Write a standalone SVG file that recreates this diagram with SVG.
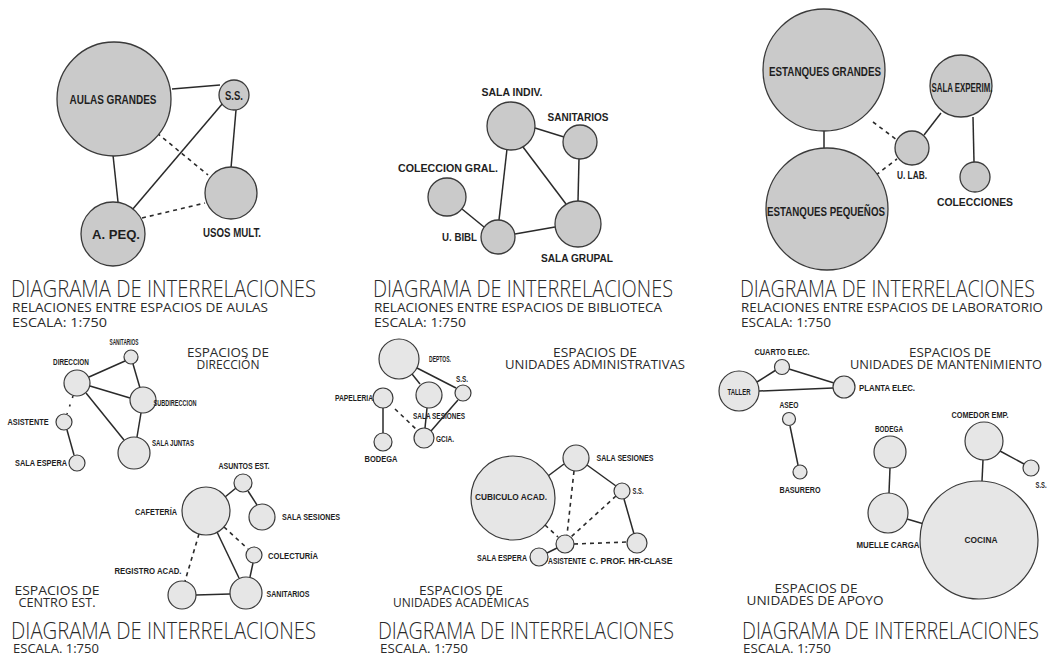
<svg xmlns="http://www.w3.org/2000/svg" width="1051" height="657" viewBox="0 0 1051 657">
<style>
.n1{fill:#cacaca;stroke:#3a3a3a;stroke-width:1.3}
.n2{fill:#e6e6e6;stroke:#3a3a3a;stroke-width:1.2}
.e{stroke:#2a2a2a;stroke-width:1.5;fill:none}
.d{stroke:#2a2a2a;stroke-width:1.6;fill:none;stroke-dasharray:4 4}
.lb{font-family:'Liberation Sans Narrow','Liberation Sans',Arial,sans-serif;font-weight:bold;fill:#1e1e1e;text-anchor:middle}
.lg{font-size:13px}
.md{font-size:11.5px}
.sm{font-size:9.5px}
.tt{font-family:'Open Sans','Liberation Sans',Arial,sans-serif;font-weight:300;fill:#2a2a2a;font-size:24px}
.st{font-family:'Open Sans','Liberation Sans',Arial,sans-serif;font-weight:400;fill:#2a2a2a;font-size:13.5px}
.hd{font-family:'Open Sans','Liberation Sans',Arial,sans-serif;font-weight:400;fill:#2a2a2a;font-size:13px;text-anchor:middle}
.end{text-anchor:end}
.st0{text-anchor:start}
</style>
<rect width="1051" height="657" fill="#ffffff"/>

<g id="connectors">
  <!-- panel 1 -->
  <line class="e" x1="172" y1="89" x2="220" y2="85"/>
  <line class="e" x1="223" y1="103" x2="132" y2="210"/>
  <line class="e" x1="236" y1="110" x2="231" y2="168"/>
  <line class="e" x1="113" y1="155" x2="118" y2="202"/>
  <line class="d" x1="157" y1="133" x2="208" y2="175"/>
  <line class="d" x1="142" y1="218" x2="205" y2="203"/>
  <!-- panel 2 -->
  <line class="e" x1="535" y1="128" x2="564" y2="137"/>
  <line class="e" x1="507" y1="149" x2="499" y2="220"/>
  <line class="e" x1="523" y1="147" x2="566" y2="204"/>
  <line class="e" x1="579" y1="159" x2="578" y2="201"/>
  <line class="e" x1="462" y1="209" x2="484" y2="227"/>
  <line class="e" x1="515" y1="234" x2="555" y2="227"/>
  <!-- panel 3 -->
  <line class="e" x1="824" y1="131" x2="824" y2="148"/>
  <line class="e" x1="941" y1="113" x2="924" y2="135"/>
  <line class="e" x1="973" y1="117" x2="974" y2="162"/>
  <line class="d" x1="873" y1="122" x2="897" y2="140"/>
  <line class="d" x1="876" y1="175" x2="897" y2="159"/>
  <!-- direccion -->
  <line class="e" x1="89" y1="377" x2="125" y2="361"/>
  <line class="e" x1="90" y1="386" x2="130" y2="398"/>
  <line class="e" x1="86" y1="393" x2="124" y2="440"/>
  <line class="e" x1="133" y1="364" x2="140" y2="388"/>
  <line class="e" x1="141" y1="413" x2="137" y2="437"/>
  <line class="d" x1="73" y1="396" x2="67" y2="414" style="stroke-dasharray:2 7"/>
  <line class="e" x1="67" y1="430" x2="74" y2="455"/>
  <!-- administrativas -->
  <line class="e" x1="417" y1="368" x2="456" y2="388"/>
  <line class="e" x1="412" y1="374" x2="420" y2="384"/>
  <line class="e" x1="458" y1="400" x2="431" y2="431"/>
  <line class="e" x1="427" y1="408" x2="425" y2="428"/>
  <line class="e" x1="383" y1="408" x2="383" y2="433"/>
  <line class="d" x1="395" y1="409" x2="416" y2="429"/>
  <!-- mantenimiento -->
  <line class="e" x1="757" y1="382" x2="776" y2="370"/>
  <line class="e" x1="789" y1="369" x2="834" y2="383"/>
  <line class="e" x1="759" y1="391" x2="833" y2="388"/>
  <line class="e" x1="790" y1="426" x2="798" y2="465"/>
  <!-- apoyo -->
  <line class="e" x1="890" y1="468" x2="889" y2="493"/>
  <line class="e" x1="983" y1="460" x2="982" y2="481"/>
  <line class="e" x1="1000" y1="451" x2="1024" y2="464"/>
  <line class="e" x1="907" y1="519" x2="924" y2="524"/>
  <!-- centro est -->
  <line class="e" x1="225" y1="497" x2="236" y2="488"/>
  <line class="e" x1="248" y1="491" x2="257" y2="505"/>
  <line class="e" x1="217" y1="532" x2="239" y2="578"/>
  <line class="d" x1="224" y1="527" x2="248" y2="549"/>
  <line class="d" x1="199" y1="534" x2="185" y2="581"/>
  <line class="e" x1="253" y1="563" x2="250" y2="577"/>
  <line class="e" x1="196" y1="595" x2="230" y2="594"/>
  <!-- academicas -->
  <line class="e" x1="548" y1="476" x2="564" y2="464"/>
  <line class="e" x1="587" y1="465" x2="616" y2="486"/>
  <line class="e" x1="624" y1="499" x2="634" y2="534"/>
  <line class="d" x1="574" y1="471" x2="567" y2="535"/>
  <line class="d" x1="616" y1="496" x2="571" y2="537"/>
  <line class="d" x1="545" y1="525" x2="558" y2="537"/>
  <line class="d" x1="574" y1="544" x2="627" y2="542"/>
  <line class="e" x1="547" y1="553" x2="557" y2="548"/>
</g>

<!-- Panel 1: aulas -->
<g id="aulas-grandes"><circle class="n1" cx="114" cy="99" r="57"/><text class="lb lg" x="113" y="104" textLength="87" lengthAdjust="spacingAndGlyphs">AULAS GRANDES</text></g>
<g id="aulas-ss"><circle class="n1" cx="234" cy="95" r="15"/><text class="lb lg" x="234" y="99.5" textLength="18" lengthAdjust="spacingAndGlyphs">S.S.</text></g>
<g id="usos-mult"><circle class="n1" cx="231" cy="193" r="26"/><text class="lb lg" x="232" y="237" textLength="58" lengthAdjust="spacingAndGlyphs">USOS MULT.</text></g>
<g id="a-peq"><circle class="n1" cx="113" cy="234" r="32"/><text class="lb lg" x="116" y="239" textLength="48" lengthAdjust="spacingAndGlyphs">A. PEQ.</text></g>
<g id="title-aulas">
  <text class="tt" x="11" y="297" textLength="305" lengthAdjust="spacingAndGlyphs">DIAGRAMA DE INTERRELACIONES</text>
  <text class="st" x="12" y="312" textLength="256" lengthAdjust="spacingAndGlyphs">RELACIONES ENTRE ESPACIOS DE AULAS</text>
  <text class="st" x="12" y="327" textLength="95" lengthAdjust="spacingAndGlyphs">ESCALA: 1:750</text>
</g>

<!-- Panel 2: biblioteca -->
<g id="sala-indiv"><circle class="n1" cx="511" cy="126" r="24"/><text class="lb md" x="512" y="96" textLength="61" lengthAdjust="spacingAndGlyphs">SALA INDIV.</text></g>
<g id="bib-sanitarios"><circle class="n1" cx="580" cy="142" r="17"/><text class="lb md" x="578" y="121" textLength="61" lengthAdjust="spacingAndGlyphs">SANITARIOS</text></g>
<g id="coleccion-gral"><circle class="n1" cx="447" cy="197" r="19"/><text class="lb md" x="448" y="172" textLength="100" lengthAdjust="spacingAndGlyphs">COLECCION GRAL.</text></g>
<g id="u-bibl"><circle class="n1" cx="498" cy="237" r="17"/><text class="lb md end" x="477" y="241" textLength="35" lengthAdjust="spacingAndGlyphs">U. BIBL</text></g>
<g id="sala-grupal"><circle class="n1" cx="578" cy="224" r="23"/><text class="lb md" x="577" y="262" textLength="72" lengthAdjust="spacingAndGlyphs">SALA GRUPAL</text></g>
<g id="title-biblioteca">
  <text class="tt" x="373" y="297" textLength="300" lengthAdjust="spacingAndGlyphs">DIAGRAMA DE INTERRELACIONES</text>
  <text class="st" x="374" y="312" textLength="288" lengthAdjust="spacingAndGlyphs">RELACIONES ENTRE ESPACIOS DE BIBLIOTECA</text>
  <text class="st" x="374" y="327" textLength="92" lengthAdjust="spacingAndGlyphs">ESCALA: 1:750</text>
</g>

<!-- Panel 3: laboratorio -->
<g id="estanques-grandes"><circle class="n1" cx="824" cy="70" r="61"/><text class="lb lg" x="825" y="76" textLength="112" lengthAdjust="spacingAndGlyphs">ESTANQUES GRANDES</text></g>
<g id="estanques-pequenos"><circle class="n1" cx="827" cy="209" r="61"/><text class="lb lg" x="826" y="216" textLength="118" lengthAdjust="spacingAndGlyphs">ESTANQUES PEQUEÑOS</text></g>
<g id="sala-experim"><circle class="n1" cx="961" cy="86" r="31"/><text class="lb lg" x="962" y="92" textLength="61" lengthAdjust="spacingAndGlyphs">SALA EXPERIM.</text></g>
<g id="u-lab"><circle class="n1" cx="912" cy="148" r="17"/><text class="lb md" x="912" y="179" textLength="30" lengthAdjust="spacingAndGlyphs">U. LAB.</text></g>
<g id="colecciones"><circle class="n1" cx="975" cy="177" r="15"/><text class="lb md" x="975" y="206" textLength="76" lengthAdjust="spacingAndGlyphs">COLECCIONES</text></g>
<g id="title-laboratorio">
  <text class="tt" x="740" y="297" textLength="295" lengthAdjust="spacingAndGlyphs">DIAGRAMA DE INTERRELACIONES</text>
  <text class="st" x="741" y="312" textLength="302" lengthAdjust="spacingAndGlyphs">RELACIONES ENTRE ESPACIOS DE LABORATORIO</text>
  <text class="st" x="741" y="327" textLength="90" lengthAdjust="spacingAndGlyphs">ESCALA: 1:750</text>
</g>

<!-- Direccion -->
<g id="direccion"><circle class="n2" cx="77" cy="383" r="13"/><text class="lb sm" x="71" y="365" textLength="36" lengthAdjust="spacingAndGlyphs">DIRECCION</text></g>
<g id="dir-sanitarios"><circle class="n2" cx="131" cy="357" r="7"/><text class="lb sm" x="124" y="345" textLength="29" lengthAdjust="spacingAndGlyphs">SANITARIOS</text></g>
<g id="subdireccion"><circle class="n2" cx="143" cy="400" r="13"/><text class="lb sm" x="175" y="406" textLength="43" lengthAdjust="spacingAndGlyphs">SUBDIRECCION</text></g>
<g id="dir-asistente"><circle class="n2" cx="64" cy="422" r="8"/><text class="lb sm" x="28" y="425" textLength="41" lengthAdjust="spacingAndGlyphs">ASISTENTE</text></g>
<g id="dir-sala-espera"><circle class="n2" cx="77" cy="463" r="8"/><text class="lb sm" x="41" y="466" textLength="52" lengthAdjust="spacingAndGlyphs">SALA ESPERA</text></g>
<g id="sala-juntas"><circle class="n2" cx="134" cy="453" r="16"/><text class="lb sm" x="173" y="446" textLength="42" lengthAdjust="spacingAndGlyphs">SALA JUNTAS</text></g>
<g id="head-direccion">
  <text class="hd" x="228" y="357" textLength="82" lengthAdjust="spacingAndGlyphs">ESPACIOS DE</text>
  <text class="hd" x="228" y="369" textLength="63" lengthAdjust="spacingAndGlyphs">DIRECCIÓN</text>
</g>

<!-- Administrativas -->
<g id="deptos"><circle class="n2" cx="399" cy="359" r="20"/><text class="lb sm" x="440" y="362" textLength="22" lengthAdjust="spacingAndGlyphs">DEPTOS.</text></g>
<g id="adm-sala-sesiones"><circle class="n2" cx="429" cy="395" r="13"/><text class="lb sm" x="439" y="419" textLength="52" lengthAdjust="spacingAndGlyphs">SALA SESIONES</text></g>
<g id="adm-ss"><circle class="n2" cx="463" cy="393" r="8"/><text class="lb sm" x="462" y="382" textLength="12" lengthAdjust="spacingAndGlyphs">S.S.</text></g>
<g id="papeleria"><circle class="n2" cx="383" cy="398" r="10"/><text class="lb sm end" x="373" y="401" textLength="38" lengthAdjust="spacingAndGlyphs">PAPELERIA</text></g>
<g id="adm-bodega"><circle class="n2" cx="383" cy="442" r="9"/><text class="lb sm" x="381" y="462" textLength="33" lengthAdjust="spacingAndGlyphs">BODEGA</text></g>
<g id="gcia"><circle class="n2" cx="424" cy="438" r="10"/><text class="lb sm" x="445" y="442" textLength="18" lengthAdjust="spacingAndGlyphs">GCIA.</text></g>
<g id="head-administrativas">
  <text class="hd" x="595" y="357" textLength="84" lengthAdjust="spacingAndGlyphs">ESPACIOS DE</text>
  <text class="hd" x="595" y="369" textLength="180" lengthAdjust="spacingAndGlyphs">UNIDADES ADMINISTRATIVAS</text>
</g>

<!-- Mantenimiento -->
<g id="taller"><circle class="n2" cx="739" cy="391" r="20"/><text class="lb sm" x="739" y="395" textLength="23" lengthAdjust="spacingAndGlyphs">TALLER</text></g>
<g id="cuarto-elec"><circle class="n2" cx="782" cy="367" r="7.5"/><text class="lb sm" x="782" y="355" textLength="55" lengthAdjust="spacingAndGlyphs">CUARTO ELEC.</text></g>
<g id="planta-elec"><circle class="n2" cx="844" cy="387" r="11"/><text class="lb sm" x="887" y="391" textLength="56" lengthAdjust="spacingAndGlyphs">PLANTA ELEC.</text></g>
<g id="aseo"><circle class="n2" cx="789" cy="419" r="6.5"/><text class="lb sm" x="789" y="408" textLength="19" lengthAdjust="spacingAndGlyphs">ASEO</text></g>
<g id="basurero"><circle class="n2" cx="800" cy="472" r="7"/><text class="lb sm" x="800" y="493" textLength="41" lengthAdjust="spacingAndGlyphs">BASURERO</text></g>
<g id="head-mantenimiento">
  <text class="hd" x="950" y="357" textLength="82" lengthAdjust="spacingAndGlyphs">ESPACIOS DE</text>
  <text class="hd" x="946" y="369" textLength="192" lengthAdjust="spacingAndGlyphs">UNIDADES DE MANTENIMIENTO</text>
</g>

<!-- Apoyo -->
<g id="apoyo-bodega"><circle class="n2" cx="890" cy="452" r="16"/><text class="lb sm" x="889" y="432" textLength="28" lengthAdjust="spacingAndGlyphs">BODEGA</text></g>
<g id="comedor-emp"><circle class="n2" cx="984" cy="441" r="19"/><text class="lb sm" x="980" y="418" textLength="57" lengthAdjust="spacingAndGlyphs">COMEDOR EMP.</text></g>
<g id="apoyo-ss"><circle class="n2" cx="1031" cy="468" r="8"/><text class="lb sm" x="1041" y="488" textLength="11" lengthAdjust="spacingAndGlyphs">S.S.</text></g>
<g id="muelle-carga"><circle class="n2" cx="888" cy="513" r="20"/><text class="lb sm" x="888" y="548" textLength="63" lengthAdjust="spacingAndGlyphs">MUELLE CARGA</text></g>
<g id="cocina"><circle class="n2" cx="979" cy="540" r="59"/><text class="lb sm" x="981" y="543" textLength="33" lengthAdjust="spacingAndGlyphs">COCINA</text></g>
<g id="head-apoyo">
  <text class="hd" x="816" y="593" textLength="83" lengthAdjust="spacingAndGlyphs">ESPACIOS DE</text>
  <text class="hd" x="815" y="605" textLength="137" lengthAdjust="spacingAndGlyphs">UNIDADES DE APOYO</text>
</g>
<g id="title-apoyo">
  <text class="tt" x="742" y="639" textLength="297" lengthAdjust="spacingAndGlyphs">DIAGRAMA DE INTERRELACIONES</text>
  <text class="st" x="743" y="653" textLength="88" lengthAdjust="spacingAndGlyphs">ESCALA. 1:750</text>
</g>

<!-- Centro estudiantil -->
<g id="cafeteria"><circle class="n2" cx="206" cy="511" r="24"/><text class="lb sm" x="156" y="515" textLength="42" lengthAdjust="spacingAndGlyphs">CAFETERÍA</text></g>
<g id="asuntos-est"><circle class="n2" cx="243" cy="483" r="9"/><text class="lb sm" x="244" y="469" textLength="51" lengthAdjust="spacingAndGlyphs">ASUNTOS EST.</text></g>
<g id="ce-sala-sesiones"><circle class="n2" cx="262" cy="517" r="13"/><text class="lb sm" x="311" y="520" textLength="58" lengthAdjust="spacingAndGlyphs">SALA SESIONES</text></g>
<g id="colecturia"><circle class="n2" cx="254" cy="555" r="8"/><text class="lb sm" x="293" y="559" textLength="50" lengthAdjust="spacingAndGlyphs">COLECTURÍA</text></g>
<g id="registro-acad"><circle class="n2" cx="182" cy="595" r="14"/><text class="lb sm" x="148" y="574" textLength="67" lengthAdjust="spacingAndGlyphs">REGISTRO ACAD.</text></g>
<g id="ce-sanitarios"><circle class="n2" cx="246" cy="593" r="16"/><text class="lb sm" x="288" y="597" textLength="43" lengthAdjust="spacingAndGlyphs">SANITARIOS</text></g>
<g id="head-centro">
  <text class="hd" x="57" y="595" textLength="85" lengthAdjust="spacingAndGlyphs">ESPACIOS DE</text>
  <text class="hd" x="57" y="607" textLength="77" lengthAdjust="spacingAndGlyphs">CENTRO EST.</text>
</g>
<g id="title-centro">
  <text class="tt" x="11" y="639" textLength="305" lengthAdjust="spacingAndGlyphs">DIAGRAMA DE INTERRELACIONES</text>
  <text class="st" x="13" y="653" textLength="86" lengthAdjust="spacingAndGlyphs">ESCALA. 1:750</text>
</g>

<!-- Academicas -->
<g id="cubiculo-acad"><circle class="n2" cx="513" cy="498" r="42"/><text class="lb sm" x="511" y="500" textLength="72" lengthAdjust="spacingAndGlyphs">CUBICULO ACAD.</text></g>
<g id="ac-sala-sesiones"><circle class="n2" cx="576" cy="458" r="13"/><text class="lb sm" x="625" y="461" textLength="57" lengthAdjust="spacingAndGlyphs">SALA SESIONES</text></g>
<g id="ac-ss"><circle class="n2" cx="622" cy="491" r="8"/><text class="lb sm" x="638" y="494" textLength="11" lengthAdjust="spacingAndGlyphs">S.S.</text></g>
<g id="ac-asistente"><circle class="n2" cx="565" cy="544" r="9"/><text class="lb sm" x="567" y="564" textLength="38" lengthAdjust="spacingAndGlyphs">ASISTENTE</text></g>
<g id="ac-sala-espera"><circle class="n2" cx="539" cy="557" r="9"/><text class="lb sm" x="502" y="561" textLength="50" lengthAdjust="spacingAndGlyphs">SALA ESPERA</text></g>
<g id="c-prof"><circle class="n2" cx="637" cy="543" r="10"/><text class="lb sm" x="631" y="564" textLength="83" lengthAdjust="spacingAndGlyphs">C. PROF. HR-CLASE</text></g>
<g id="head-academicas">
  <text class="hd" x="461" y="595" textLength="84" lengthAdjust="spacingAndGlyphs">ESPACIOS DE</text>
  <text class="hd" x="461" y="607" textLength="136" lengthAdjust="spacingAndGlyphs">UNIDADES ACADÉMICAS</text>
</g>
<g id="title-academicas">
  <text class="tt" x="378" y="639" textLength="296" lengthAdjust="spacingAndGlyphs">DIAGRAMA DE INTERRELACIONES</text>
  <text class="st" x="380" y="653" textLength="88" lengthAdjust="spacingAndGlyphs">ESCALA. 1:750</text>
</g>
</svg>
